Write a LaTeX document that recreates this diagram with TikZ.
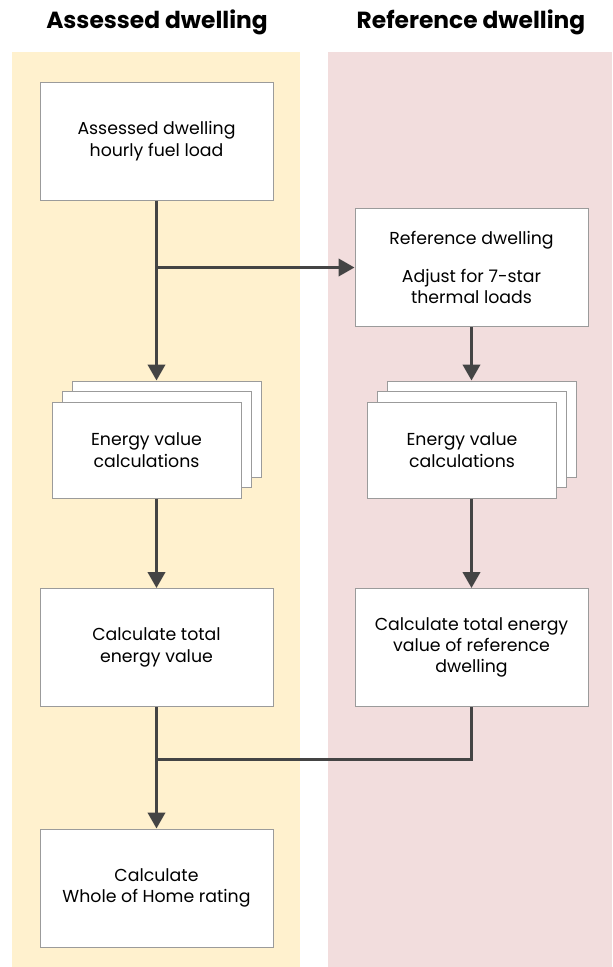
\documentclass[tikz,border=0pt]{standalone}
\usepackage{fontspec}
\setmainfont{Poppins}
\usetikzlibrary{arrows.meta, positioning}
\definecolor{assessedbg}{RGB}{255,241,206}
\definecolor{referencebg}{RGB}{242,221,221}
\definecolor{linegray}{RGB}{68,68,68}
\definecolor{boxgray}{RGB}{155,155,155}

\begin{document}
\begin{tikzpicture}[
			x=0.75pt, y=-0.75pt,
			box/.style={rectangle, draw=boxgray, fill=white, line width=0.75pt, minimum width=174.75pt, minimum height=88.5pt, align=center, inner sep=0pt, font=\fontsize{13}{16}\selectfont},
			stackbox/.style={box, minimum width=141.75pt, minimum height=72pt},
			arrow/.style={-{Triangle[length=12pt, width=13pt]}, line width=2.25pt, draw=linegray},
			link/.style={line width=2.25pt, draw=linegray},
			title/.style={font=\fontsize{17.5}{20}\selectfont\bfseries}
		]
		\useasboundingbox (0,0) rectangle (612,967);
		
		% Columns
		\fill[assessedbg] (12,52) rectangle (300,967);
		\fill[referencebg] (328,52) rectangle (612,967);
		\node[title] (titleA) at (157,22) {Assessed dwelling};
		\node[title] (titleR) at (471,22) {Reference dwelling};
		
		\node[box] (fuel) at (156.5,141) {Assessed dwelling\\hourly fuel load};
		\node[box] (ref) at (471.5,267.5) {Reference dwelling\\[12.5pt]Adjust for 7-star\\thermal loads};
		
		% Stacked calculation boxes
		\node[stackbox] (evalAback) at (166.5,429) {};
		\node[stackbox] (evalAmid) at (156.5,439) {};
		\node[stackbox] (evalA) at (146.5,450) {Energy value\\calculations};
		\node[stackbox] (evalRback) at (482,429) {};
		\node[stackbox] (evalRmid) at (472,439) {};
		\node[stackbox] (evalR) at (462,450) {Energy value\\calculations};
		
		\node[box] (totA) at (156.5,647.5) {Calculate total\\energy value};
		\node[box] (totR) at (471.5,647.5) {Calculate total energy\\value of reference\\dwelling};
		\node[box] (rating) at (156.5,888) {Calculate\\Whole of Home rating};
		\coordinate (merge) at (156.5,759);
		
		\draw[arrow] (fuel) -- (fuel |- evalAback.north);
		\draw[arrow] (fuel.south |- ref.west) -- (ref.west);
		\draw[arrow] (ref) -- (ref |- evalRback.north);
		\draw[arrow] (evalA.south -| fuel) -- (totA);
		\draw[arrow] (evalR.south -| ref) -- (totR);
		\draw[link] (totR.south) |- (merge);
		\draw[arrow] (totA) -- (rating);
		\end{tikzpicture}
\end{document}
